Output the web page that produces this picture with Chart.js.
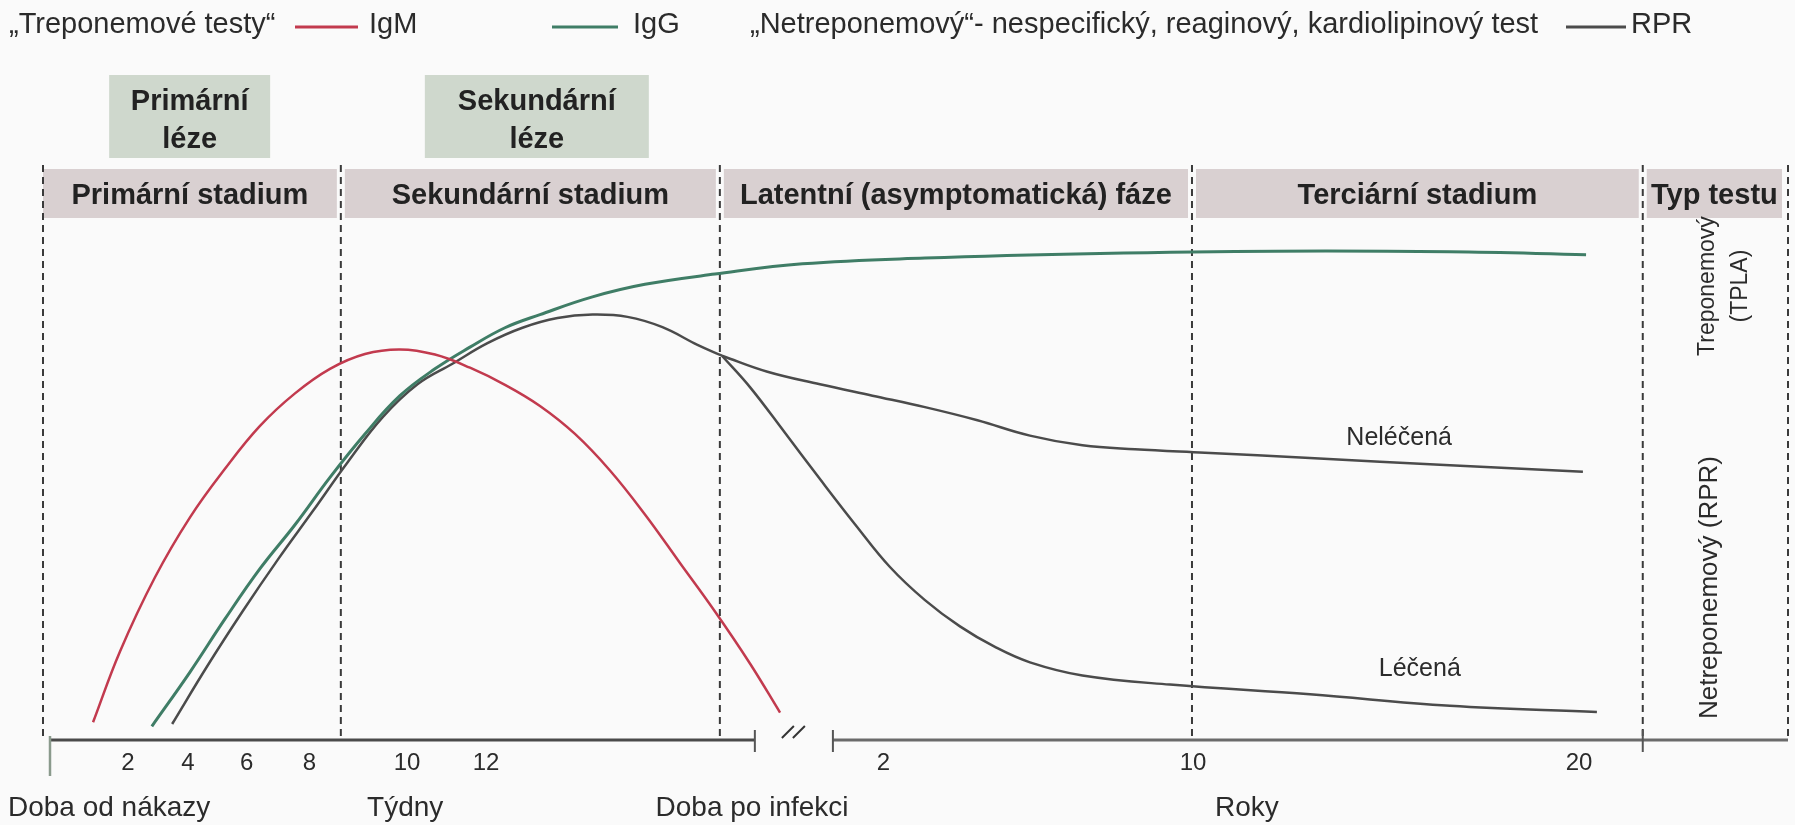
<!DOCTYPE html>
<html>
<head>
<meta charset="utf-8">
<title>Sérologie syfilis</title>
<script src="https://cdn.jsdelivr.net/npm/chart.js@4.4.1/dist/chart.umd.min.js"></script>
<style>
  html, body { margin: 0; padding: 0; background: #fafafa; }
</style>
</head>
<body>
<canvas id="chart" width="1795" height="825"></canvas>
<script>
'use strict';

var FONT = "'Liberation Sans', Arial, sans-serif";

// osa x: pozice na časové ose (týdny, za zlomem roky), osa y: relativní titr 0-100
var stageLabels = ['Primární stadium', 'Sekundární stadium', 'Latentní (asymptomatická) fáze', 'Terciární stadium', 'Typ testu'];
var stageBounds = [-0.2, 8.31, 19.14, 32.63, 45.51, 49.66];

var lesionLabels = [['Primární', 'léze'], ['Sekundární', 'léze']];
var lesionFrom = [1.69, 10.71];
var lesionTo = [6.29, 17.11];

var weekTicks = ['2', '4', '6', '8', '10', '12'];
var weekTickPos = [2.23, 3.94, 5.62, 7.41, 10.2, 12.46];
var yearTicks = ['2', '10', '20'];
var yearTickPos = [23.81, 32.66, 43.69];
var weekAxisEnd = 20.14;
var yearAxisStart = 22.37;

var axisTitles = ['Doba od nákazy', 'Týdny', 'Doba po infekci', 'Roky'];
var axisTitlePos = [1.69, 10.15, 20.06, 34.2];

var igmPos = [1.23, 2, 3, 4, 5, 6, 7, 8, 9, 10, 11, 12, 13, 14, 15, 16, 17, 18, 19, 20, 20.86];
var igmLevel = [3.1, 15.5, 28.5, 39.0, 47.5, 55.0, 60.7, 65.0, 67.6, 68.4, 67.5, 65.2, 62.2, 58.5, 53.6, 47.2, 39.5, 31.0, 22.5, 13.4, 4.8];

var iggPos = [2.91, 4, 5, 6, 7, 8, 9, 10, 11, 12, 13, 14, 15.5, 17, 19, 21.5, 25, 30, 35, 40, 43.89];
var iggLevel = [2.4, 11.9, 21.2, 30.0, 37.7, 46.0, 53.6, 60.3, 65.0, 68.8, 72.2, 74.5, 77.6, 79.8, 81.6, 83.4, 84.4, 85.2, 85.6, 85.5, 85.0];

var rprPos = [3.49, 4.5, 5.5, 6.5, 7.5, 8.5, 9.5, 10.5, 11.5, 12.5, 13.5, 14.5, 15.5, 16.5, 17.5, 18.5, 19.2];
var rprLevel = [2.8, 13.0, 22.5, 31.5, 40.0, 48.6, 56.5, 62.3, 65.9, 69.5, 72.2, 73.9, 74.5, 74.1, 72.3, 69.2, 67.3];

var untreatedPos = [19.2, 20.5, 22, 23.5, 25, 26.5, 28, 29.5, 31, 33, 36, 40, 43.8];
var untreatedLevel = [67.3, 64.5, 62.3, 60.3, 58.3, 56.0, 53.3, 51.6, 50.9, 50.3, 49.4, 48.1, 47.0];

var treatedPos = [19.2, 20, 21, 22, 23, 24, 25, 26, 27, 28, 29.5, 32, 36, 40, 44.2];
var treatedLevel = [67.3, 61.8, 53.8, 45.7, 37.8, 30.3, 24.5, 19.9, 16.3, 13.6, 11.3, 9.7, 8.0, 6.0, 4.9];

var curveNotes = ['Neléčená', 'Léčená'];
var curveNotePos = [38.55, 39.14];
var curveNoteLevel = [52.9, 12.5];

var testTypeLabels = [['Treponemový', '(TPLA)'], ['Netreponemový (RPR)']];
var testTypeLevel = [79.5, 26.7];
var testTypeFont = [23, 26];

var tickPos = weekTickPos.concat(yearTickPos);
var tickLabels = weekTicks.concat(yearTicks);

function pts(xs, ys) {
    return xs.map(function (v, i) { return { x: v, y: ys[i] }; });
}

function txt(c, s, x, y, font, align, color) {
    c.font = font;
    c.textAlign = align || 'center';
    c.textBaseline = 'middle';
    c.fillStyle = color || '#2b2b2b';
    c.fillText(s, x, y);
}

function hline(c, x0, x1, y, color, w) {
    c.beginPath();
    c.strokeStyle = color;
    c.lineWidth = w;
    c.moveTo(x0, y);
    c.lineTo(x1, y);
    c.stroke();
}

var diagram = {
    id: 'diagram',
    beforeDraw: function (chart) {
        var c = chart.ctx, xs = chart.scales.x, ys = chart.scales.y, area = chart.chartArea;
        c.save();
        c.fillStyle = '#fafafa';
        c.fillRect(0, 0, chart.width, chart.height);

        // pruh se stadii
        var n = stageLabels.length;
        for (var i = 0; i < n; i++) {
            var x0 = xs.getPixelForValue(stageBounds[i]) + (i > 0 ? 4 : 0);
            var x1 = xs.getPixelForValue(stageBounds[i + 1]) - (i < n - 1 ? 4 : 6);
            c.fillStyle = '#d9d0d1';
            c.fillRect(x0, area.top, x1 - x0, 49);
            txt(c, stageLabels[i], (x0 + x1) / 2, area.top + 27, 'bold 29px ' + FONT, 'center', '#222');
        }

        // léze
        for (var j = 0; j < lesionLabels.length; j++) {
            var l0 = xs.getPixelForValue(lesionFrom[j]);
            var l1 = xs.getPixelForValue(lesionTo[j]);
            c.fillStyle = '#cfd8cd';
            c.fillRect(l0, area.top - 94, l1 - l0, 83);
            txt(c, lesionLabels[j][0], (l0 + l1) / 2, area.top - 67, 'bold 29px ' + FONT, 'center', '#222');
            txt(c, lesionLabels[j][1], (l0 + l1) / 2, area.top - 29, 'bold 29px ' + FONT, 'center', '#222');
        }

        // přerušované svislice
        var axisY = ys.getPixelForValue(0);
        c.setLineDash([7, 5]);
        for (var k = 0; k < stageBounds.length; k++) {
            var dx = xs.getPixelForValue(stageBounds[k]);
            c.beginPath();
            c.strokeStyle = '#3a3a3a';
            c.lineWidth = 2;
            c.moveTo(dx, area.top - 4);
            c.lineTo(dx, axisY - 2);
            c.stroke();
        }
        c.setLineDash([]);

        // časová osa se zlomem
        var ax0 = xs.getPixelForValue(0);
        var ax1 = xs.getPixelForValue(weekAxisEnd);
        var ax2 = xs.getPixelForValue(yearAxisStart);
        var ax3 = xs.getPixelForValue(stageBounds[n]);
        hline(c, ax0, ax1, axisY, '#4a4a4a', 3);
        hline(c, ax2, ax3, axisY, '#6a6a6a', 3);
        c.strokeStyle = '#555';
        c.lineWidth = 2;
        [ax1, ax2, xs.getPixelForValue(stageBounds[n - 1])].forEach(function (tx) {
            c.beginPath();
            c.moveTo(tx, axisY - 10);
            c.lineTo(tx, axisY + 12);
            c.stroke();
        });
        c.beginPath();
        c.strokeStyle = '#8a9a8c';
        c.lineWidth = 2.5;
        c.moveTo(ax0, axisY - 4);
        c.lineTo(ax0, axisY + 36);
        c.stroke();
        var bx = (ax1 + ax2) / 2;
        c.strokeStyle = '#333';
        c.lineWidth = 2;
        [-6, 5].forEach(function (o) {
            c.beginPath();
            c.moveTo(bx + o - 6, axisY - 2);
            c.lineTo(bx + o + 6, axisY - 14);
            c.stroke();
        });

        // popisky pod osou
        for (var t = 0; t < axisTitles.length; t++) {
            txt(c, axisTitles[t], xs.getPixelForValue(axisTitlePos[t]), axisY + 68, '28px ' + FONT, 'center', '#2b2b2b');
        }

        // legenda
        var ly = 25;
        var lf = '29px ' + FONT;
        txt(c, '\u201ETreponemové testy\u201C', 9, ly, lf, 'left');
        hline(c, 295, 358, ly + 2, '#c23a4e', 3);
        txt(c, 'IgM', 369, ly, lf, 'left');
        hline(c, 552, 618, ly + 2, '#3f7d66', 3);
        txt(c, 'IgG', 633, ly, lf, 'left');
        txt(c, '\u201ENetreponemový\u201C- nespecifický, reaginový, kardiolipinový test', 750, ly, lf, 'left');
        hline(c, 1566, 1626, ly + 2, '#4b4b4b', 3);
        txt(c, 'RPR', 1631, ly, lf, 'left');
        c.restore();
    },
    afterDatasetsDraw: function (chart) {
        var c = chart.ctx, xs = chart.scales.x, ys = chart.scales.y;
        c.save();
        for (var i = 0; i < curveNotes.length; i++) {
            txt(c, curveNotes[i], xs.getPixelForValue(curveNotePos[i]), ys.getPixelForValue(curveNoteLevel[i]), '25px ' + FONT, 'center', '#2b2b2b');
        }
        var mid = (xs.getPixelForValue(stageBounds[4]) + xs.getPixelForValue(stageBounds[5])) / 2;
        for (var j = 0; j < testTypeLabels.length; j++) {
            var lines = testTypeLabels[j];
            var cy = ys.getPixelForValue(testTypeLevel[j]);
            for (var k = 0; k < lines.length; k++) {
                var cx = mid + (lines.length === 1 ? -6 : (k === 0 ? -8 : 25));
                c.save();
                c.translate(cx, cy);
                c.rotate(-Math.PI / 2);
                txt(c, lines[k], 0, 0, testTypeFont[j] + 'px ' + FONT, 'center', '#2b2b2b');
                c.restore();
            }
        }
        c.restore();
    }
};

var ctx = document.getElementById('chart');
var chart = new Chart(ctx, {
    type: 'line',
    data: {
        datasets: [
            { label: 'IgM', data: pts(igmPos, igmLevel), borderColor: '#c23a4e', borderWidth: 2.5 },
            { label: 'IgG', data: pts(iggPos, iggLevel), borderColor: '#3f7d66', borderWidth: 3 },
            { label: 'RPR', data: pts(rprPos, rprLevel), borderColor: '#4b4b4b', borderWidth: 2.5 },
            { label: 'RPR neléčená', data: pts(untreatedPos, untreatedLevel), borderColor: '#4b4b4b', borderWidth: 2.5 },
            { label: 'RPR léčená', data: pts(treatedPos, treatedLevel), borderColor: '#4b4b4b', borderWidth: 2.5 }
        ]
    },
    options: {
        responsive: false,
        animation: false,
        layout: { padding: { left: 43, right: 7, top: 169, bottom: 45 } },
        elements: {
            point: { radius: 0 },
            line: { tension: 0.4, fill: false }
        },
        plugins: { legend: { display: false }, tooltip: { enabled: false } },
        scales: {
            x: {
                type: 'linear',
                min: stageBounds[0],
                max: stageBounds[stageBounds.length - 1],
                grid: { display: false, drawTicks: false },
                border: { display: false },
                afterBuildTicks: function (scale) {
                    scale.ticks = tickPos.map(function (v) { return { value: v }; });
                },
                afterFit: function (scale) {
                    scale.height = 40;
                },
                ticks: {
                    autoSkip: false,
                    maxRotation: 0,
                    padding: 9,
                    color: '#2b2b2b',
                    font: { family: FONT, size: 24 },
                    callback: function (value, index) { return tickLabels[index]; }
                }
            },
            y: { min: 0, max: 100, display: false }
        }
    },
    plugins: [diagram]
});
</script>
</body>
</html>
